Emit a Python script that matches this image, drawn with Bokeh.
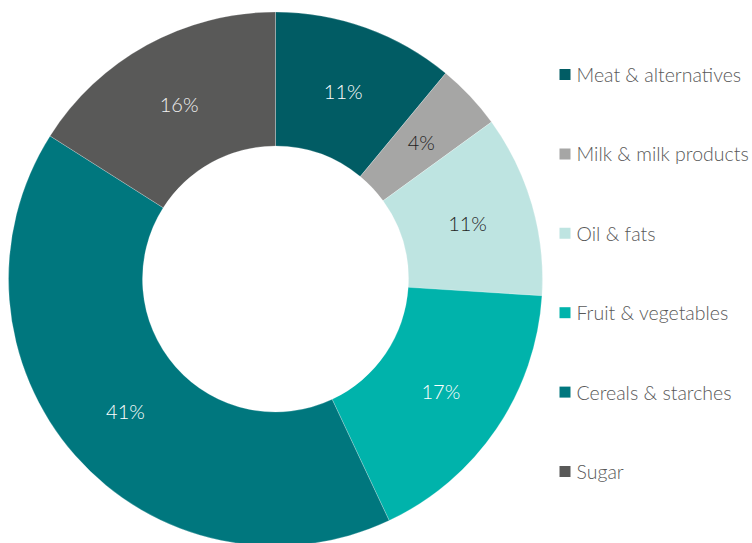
import math
from bokeh.plotting import figure
from bokeh.models import Range1d, ColumnDataSource
from bokeh.core.properties import value
from bokeh.embed import file_html
from bokeh.resources import INLINE

categories = ["Meat & alternatives", "Milk & milk products", "Oil & fats",
              "Fruit & vegetables", "Cereals & starches", "Sugar"]
shares = [11, 4, 11, 17, 41, 16]
colors = ["#015C64", "#A6A6A5", "#BEE4E1", "#00B3AB", "#00777E", "#595958"]
label_colors = ["#FFFFFF", "#1E1E1E", "#1E1E1E", "#FFFFFF", "#FFFFFF", "#F2F2F2"]

W, H = 752, 543
p = figure(width=W, height=H, output_backend="svg", toolbar_location=None,
           x_axis_type=None, y_axis_type=None, min_border=0,
           x_range=Range1d(0, W), y_range=Range1d(0, H))
p.outline_line_color = None
p.grid.visible = False

cx, cy = 275, H - 278.5
r_in, r_out = 133, 267

total = sum(shares)
starts, ends, lx, ly, labels = [], [], [], [], []
cum = 0.0
for s in shares:
    a0 = math.pi / 2 - 2 * math.pi * cum / total
    cum += s
    a1 = math.pi / 2 - 2 * math.pi * cum / total
    starts.append(a0)
    ends.append(a1)
    mid = (a0 + a1) / 2
    rm = (r_in + r_out) / 2
    lx.append(cx + rm * math.cos(mid))
    ly.append(cy + rm * math.sin(mid))
    labels.append(f"{s}%")

src = ColumnDataSource(dict(start=starts, end=ends, color=colors,
                            lx=lx, ly=ly, label=labels, lc=label_colors))
p.annular_wedge(x=cx, y=cy, inner_radius=r_in, outer_radius=r_out,
                start_angle="start", end_angle="end", direction="clock",
                fill_color="color", line_color="white", line_width=0.4,
                line_alpha=0.6, source=src)
p.text(x="lx", y="ly", text="label", text_color="lc", source=src,
       text_align="center", text_baseline="middle",
       text_font=value("Lato Light"), text_font_size="20px")

# legend
lg_x = 564.5
lg_y0 = H - 74
step = 79.4
ys = [lg_y0 - i * step for i in range(len(categories))]
p.rect(x=[lg_x] * len(categories), y=ys, width=11, height=11,
       fill_color=colors, line_color=None)
p.text(x=[lg_x + 11.5] * len(categories), y=ys, text=categories,
       text_color="#595959", text_align="left", text_baseline="middle",
       text_font=value("Lato Light"), text_font_size="19.5px")

open("out.html", "w").write(file_html(p, INLINE))
